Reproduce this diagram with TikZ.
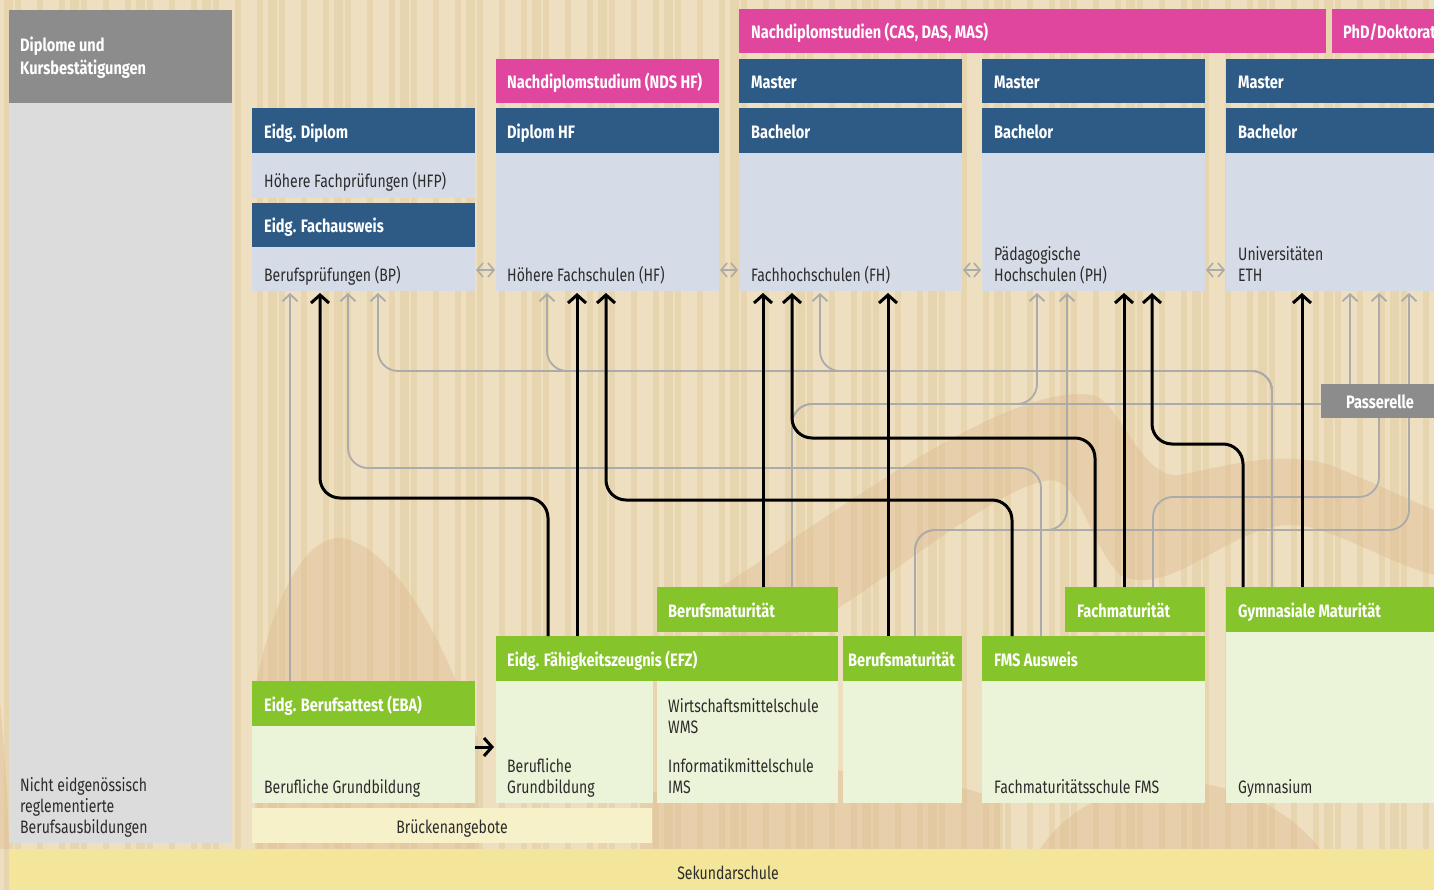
\documentclass[tikz,border=0pt]{standalone}
\usepackage{fontspec}
\setmainfont{Fira Sans}[FakeStretch=0.78, BoldFeatures={FakeStretch=0.81}]
\usetikzlibrary{arrows.meta}
\definecolor{bgc}{HTML}{EEDFC0}
\definecolor{stripec}{HTML}{E6D5AE}
\definecolor{blobc}{HTML}{DDB88E}
\definecolor{blu}{HTML}{2E5B86}
\definecolor{lblu}{HTML}{D5DBE7}
\definecolor{pnk}{HTML}{E0469E}
\definecolor{grn}{HTML}{85C42A}
\definecolor{lgrn}{HTML}{EBF3D8}
\definecolor{hgray}{HTML}{8C8C8C}
\definecolor{lgbox}{HTML}{DCDCDC}
\definecolor{bridge}{HTML}{F7F1C9}
\definecolor{sek}{HTML}{F3E69B}
\definecolor{lngray}{HTML}{ABABAB}
\definecolor{txt}{HTML}{2B2B2B}
\begin{document}
\begin{tikzpicture}[x=1pt,y=-1pt,
  box/.style={inner sep=0pt, outer sep=0pt, anchor=north west, draw=none},
  hd/.style={anchor=base west, inner sep=0pt, text=white, font=\bfseries\fontsize{18}{21}\selectfont},
  tx/.style={anchor=base west, inner sep=0pt, text=txt, font=\fontsize{18}{21}\selectfont},
  blk/.style={draw=black, line width=3pt, rounded corners=20pt, -{Straight Barb[length=8pt,width=18pt]}, shorten >=2pt},
  gry/.style={draw=lngray, line width=1.8pt, rounded corners=20pt, -{Straight Barb[length=7pt,width=15pt]}, shorten >=2pt},
  gryplain/.style={draw=lngray, line width=1.8pt, rounded corners=20pt},
  dbl/.style={draw=lngray, line width=1.6pt, {Straight Barb[length=6pt,width=14pt]}-{Straight Barb[length=6pt,width=14pt]}, shorten <=1pt, shorten >=1pt},
  blob/.style={fill=blobc, opacity=0.4}
]
\useasboundingbox (0,0) rectangle (1434,890);
% background
\fill[bgc] (0,0) rectangle (1434,890);
\foreach \x in {15,37,...,1434} \fill[stripec] (\x,0) rectangle ++(6,890);
\foreach \x in {4,70,...,1434} \fill[stripec] (\x,0) rectangle ++(9,890);
% blobs
\fill[blob] (255,690) .. controls (275,585) and (310,535) .. (342,538) .. controls (395,548) and (445,640) .. (478,740) -- (478,850) -- (255,850) -- cycle;
\fill[blob] (700,600) .. controls (800,540) and (1000,380) .. (1092,395) .. controls (1120,400) and (1140,480) .. (1180,475) .. controls (1230,465) and (1280,450) .. (1330,465) .. controls (1380,485) and (1420,505) .. (1434,510)
  -- (1434,575) .. controls (1380,560) and (1330,525) .. (1290,525) .. controls (1230,525) and (1170,600) .. (1120,575) .. controls (1090,545) and (1080,480) .. (1050,480) .. controls (980,490) and (850,620) .. (740,660) -- cycle;
\fill[blob] (640,800) .. controls (700,760) and (900,760) .. (1000,800) -- (1000,849) -- (640,849) -- cycle;
\fill[blob] (1040,849) .. controls (1100,760) and (1250,760) .. (1320,849) -- cycle;
\fill[blob] (0,700) .. controls (5,760) and (8,800) .. (9,849) -- (0,849) -- cycle;

% left column
\node[box, fill=hgray, minimum width=223pt, minimum height=93pt] (dk) at (9,10) {};
\node[box, fill=lgbox, minimum width=223pt, minimum height=740pt] (nr) at (9,103) {};
\node[hd] (tdk1) at (20,52) {Diplome und};
\node[hd] (tdk2) at (20,75) {Kursbestätigungen};
\node[tx] (tnr1) at (20,791) {Nicht eidgenössisch};
\node[tx] (tnr2) at (20,812) {reglementierte};
\node[tx] (tnr3) at (20,833) {Berufsausbildungen};

% column 1
\node[box, fill=blu, minimum width=223pt, minimum height=45pt] (edip) at (252,108) {};
\node[box, fill=lblu, minimum width=223pt, minimum height=45pt] (hfp) at (252,153) {};
\node[box, fill=blu, minimum width=223pt, minimum height=44pt] (efa) at (252,203) {};
\node[box, fill=lblu, minimum width=223pt, minimum height=44pt] (bp) at (252,247) {};
\node[hd] (tedip) at (264,138.5) {Eidg. Diplom};
\node[tx] (thfp) at (264,187.5) {Höhere Fachprüfungen (HFP)};
\node[hd] (tefa) at (264,232.5) {Eidg. Fachausweis};
\node[tx] (tbp) at (264,281.5) {Berufsprüfungen (BP)};

% column 2
\node[box, fill=pnk, minimum width=223pt, minimum height=44pt] (ndshf) at (496,59) {};
\node[box, fill=blu, minimum width=223pt, minimum height=45pt] (dhf) at (496,108) {};
\node[box, fill=lblu, minimum width=223pt, minimum height=138pt] (hf) at (496,153) {};
\node[hd] (tndshf) at (507,88.5) {Nachdiplomstudium (NDS HF)};
\node[hd] (tdhf) at (507,138.5) {Diplom HF};
\node[tx] (thf) at (507,281.5) {Höhere Fachschulen (HF)};

% column 3
\node[box, fill=pnk, minimum width=587pt, minimum height=44pt] (nds) at (739,9) {};
\node[box, fill=blu, minimum width=223pt, minimum height=44pt] (m3) at (739,59) {};
\node[box, fill=blu, minimum width=223pt, minimum height=45pt] (b3) at (739,108) {};
\node[box, fill=lblu, minimum width=223pt, minimum height=138pt] (fh) at (739,153) {};
\node[hd] (tnds) at (751,38.5) {Nachdiplomstudien (CAS, DAS, MAS)};
\node[hd] (tm3) at (751,88.5) {Master};
\node[hd] (tb3) at (751,138.5) {Bachelor};
\node[tx] (tfh) at (751,281.5) {Fachhochschulen (FH)};

% column 4
\node[box, fill=blu, minimum width=223pt, minimum height=44pt] (m4) at (982,59) {};
\node[box, fill=blu, minimum width=223pt, minimum height=45pt] (b4) at (982,108) {};
\node[box, fill=lblu, minimum width=223pt, minimum height=138pt] (ph) at (982,153) {};
\node[hd] (tm4) at (994,88.5) {Master};
\node[hd] (tb4) at (994,138.5) {Bachelor};
\node[tx] (tph1) at (994,260.5) {Pädagogische};
\node[tx] (tph2) at (994,281.5) {Hochschulen (PH)};

% column 5
\node[box, fill=pnk, minimum width=110pt, minimum height=44pt] (phd) at (1332,9) {};
\node[box, fill=blu, minimum width=210pt, minimum height=44pt] (m5) at (1226,59) {};
\node[box, fill=blu, minimum width=210pt, minimum height=45pt] (b5) at (1226,108) {};
\node[box, fill=lblu, minimum width=210pt, minimum height=138pt] (uni) at (1226,153) {};
\node[hd] (tphd) at (1343,38.5) {PhD/Doktorat};
\node[hd] (tm5) at (1238,88.5) {Master};
\node[hd] (tb5) at (1238,138.5) {Bachelor};
\node[tx] (tuni1) at (1238,260.5) {Universitäten};
\node[tx] (tuni2) at (1238,281.5) {ETH};

% lower boxes
\node[box, fill=grn, minimum width=223pt, minimum height=45pt] (ebaH) at (252,681) {};
\node[box, fill=lgrn, minimum width=223pt, minimum height=77pt] (eba) at (252,726) {};
\node[box, fill=grn, minimum width=342pt, minimum height=45pt] (efz) at (496,636) {};
\node[box, fill=lgrn, minimum width=157pt, minimum height=122pt] (efzL) at (496,681) {};
\node[box, fill=lgrn, minimum width=181pt, minimum height=122pt] (wms) at (657,681) {};
\node[box, fill=grn, minimum width=181pt, minimum height=45pt] (bm1) at (657,587) {};
\node[box, fill=grn, minimum width=119pt, minimum height=45pt] (bm2H) at (843,636) {};
\node[box, fill=lgrn, minimum width=119pt, minimum height=122pt] (bm2) at (843,681) {};
\node[box, fill=grn, minimum width=223pt, minimum height=45pt] (fmsH) at (982,636) {};
\node[box, fill=lgrn, minimum width=223pt, minimum height=122pt] (fms) at (982,681) {};
\node[box, fill=grn, minimum width=140pt, minimum height=45pt] (fm) at (1065,587) {};
\node[box, fill=grn, minimum width=210pt, minimum height=45pt] (gymH) at (1226,587) {};
\node[box, fill=lgrn, minimum width=210pt, minimum height=171pt] (gym) at (1226,632) {};
\node[box, fill=bridge, minimum width=400pt, minimum height=35pt] (br) at (252,808) {};
\node[box, fill=sek, minimum width=1430pt, minimum height=41pt] (sk) at (9,849) {};

\node[hd] (tebaH) at (264,711.5) {Eidg. Berufsattest (EBA)};
\node[tx] (teba) at (264,793) {Berufliche Grundbildung};
\node[hd] (tefz) at (507,666.5) {Eidg. Fähigkeitszeugnis (EFZ)};
\node[tx] (tefzL1) at (507,772) {Berufliche};
\node[tx] (tefzL2) at (507,793) {Grundbildung};
\node[tx] (twms1) at (668,712) {Wirtschaftsmittelschule};
\node[tx] (twms2) at (668,733) {WMS};
\node[tx] (tims1) at (668,772) {Informatikmittelschule};
\node[tx] (tims2) at (668,793) {IMS};
\node[hd] (tbm1) at (668,617.5) {Berufsmaturität};
\node[hd] (tbm2) at (848,666.5) {Berufsmaturität};
\node[hd] (tfmsH) at (994,666.5) {FMS Ausweis};
\node[tx] (tfms) at (994,793) {Fachmaturitätsschule FMS};
\node[hd] (tfm) at (1077,617.5) {Fachmaturität};
\node[hd] (tgymH) at (1238,617.5) {Gymnasiale Maturität};
\node[tx] (tgym) at (1238,793) {Gymnasium};
\node[tx, anchor=base] (tbr) at (452,833) {Brückenangebote};
\node[tx, anchor=base] (tsk) at (728,879) {Sekundarschule};

% double arrows between columns
\draw[dbl] (bp.east |- 0,270) -- (hf.west |- 0,270);
\draw[dbl] (hf.east |- 0,270) -- (fh.west |- 0,270);
\draw[dbl] (fh.east |- 0,270) -- (ph.west |- 0,270);
\draw[dbl] (ph.east |- 0,270) -- (uni.west |- 0,270);

% grey connectors
\draw[gry] (290,0 |- ebaH.north) -- (290,0 |- bp.south);
\draw[gry] (1041,0 |- fmsH.north) |- (348,468) -- (348,0 |- bp.south);
\draw[gry] (1272,0 |- gymH.north) |- (378,371) -- (378,0 |- bp.south);
\draw[gry] (1272,0 |- gymH.north) |- (547,371) -- (547,0 |- hf.south);
\draw[gry] (1272,0 |- gymH.north) |- (820,371) -- (820,0 |- fh.south);
\draw[gry] (792,0 |- bm1.north) |- (1037,404) -- (1037,0 |- ph.south);
\draw[gry] (915,0 |- bm2H.north) |- (1067,530) -- (1067,0 |- ph.south);
\draw[gry] (915,0 |- bm2H.north) |- (1409,530) -- (1409,0 |- uni.south);
\draw[gry] (1153,0 |- fm.north) |- (1379,497) -- (1379,0 |- uni.south);

% Passerelle
\node[box, fill=hgray, minimum width=113pt, minimum height=34pt] (pass) at (1321,384) {};
\node[hd, anchor=base] (tpass) at (1380,408) {Passerelle};
\draw[gryplain] (792,0 |- bm1.north) |- (pass.west |- 0,404);
\draw[gry] (1350,0 |- pass.north) -- (1350,0 |- uni.south);

% black connectors
\draw[blk] (548,0 |- efz.north) |- (320,498) -- (320,0 |- bp.south);
\draw[blk] (577,0 |- efz.north) -- (577,0 |- hf.south);
\draw[blk] (1012,0 |- fmsH.north) |- (606,500) -- (606,0 |- hf.south);
\draw[blk] (763,0 |- bm1.north) -- (763,0 |- fh.south);
\draw[blk] (1095,0 |- fm.north) |- (792,438) -- (792,0 |- fh.south);
\draw[blk] (888,0 |- bm2H.north) -- (888,0 |- fh.south);
\draw[blk] (1124,0 |- fm.north) -- (1124,0 |- ph.south);
\draw[blk] (1243,0 |- gymH.north) |- (1152,444) -- (1152,0 |- ph.south);
\draw[blk] (1302,0 |- gymH.north) -- (1302,0 |- uni.south);
\draw[blk, rounded corners=0pt] (eba.east |- 0,747) -- (efzL.west |- 0,747);
\end{tikzpicture}
\end{document}
